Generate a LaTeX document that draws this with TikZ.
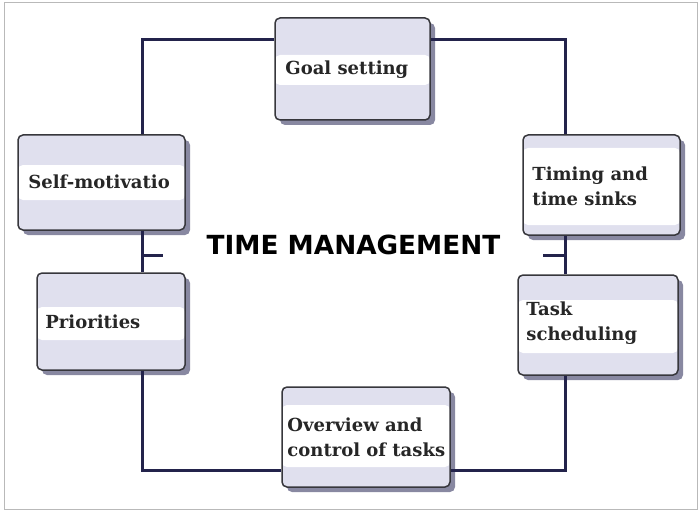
\documentclass[tikz,border=0pt]{standalone}
\usepackage{fontspec}
\usetikzlibrary{shadows,calc}
\newfontfamily\boxfont{DejaVu Serif}
\newfontfamily\titlefont{DejaVu Sans}
\definecolor{lav}{RGB}{224,224,238}
\definecolor{navy}{RGB}{35,35,75}
\definecolor{edge}{RGB}{55,55,60}
\definecolor{shadowc}{RGB}{115,115,145}
\definecolor{framegray}{RGB}{185,185,185}
\tikzset{
  box/.style 2 args={draw=edge, line width=1.5pt, rounded corners=5pt, fill=lav, inner sep=0pt,
    drop shadow={shadow xshift=5pt, shadow yshift=-5pt, fill=shadowc, opacity=0.85},
    path picture={\fill[white] ([yshift=-#1pt]path picture bounding box.north west) rectangle ([yshift=#2pt]path picture bounding box.south east);}},
  label/.style={anchor=west, align=left, inner sep=0pt, font=\boxfont\bfseries\fontsize{18}{25}\selectfont, text=black!85},
  link/.style={draw=navy, line width=3pt},
}
\begin{document}
\begin{tikzpicture}[x=1pt,y=-1pt]
\useasboundingbox (0,0) rectangle (700,513);
\draw[framegray, line width=1pt] (4,3) rectangle (697,509);
% corner coordinates
\coordinate (tl) at (142,40);
\coordinate (tr) at (565,40);
\coordinate (bl) at (142,470);
\coordinate (br) at (565,470);
\coordinate (tickL) at (142,255);
\coordinate (tickLe) at (163,255);
\coordinate (tickR) at (565,255);
\coordinate (tickRe) at (543,255);
% boxes
\node[box={37}{35}, minimum width=155pt, minimum height=102pt] (goal) at (352.5,69) {};
\node[box={30}{30}, minimum width=167pt, minimum height=95pt] (self) at (101.5,182.5) {};
\node[box={34}{30}, minimum width=148pt, minimum height=97pt] (prio) at (111,321.5) {};
\node[box={13}{10}, minimum width=157pt, minimum height=100pt] (timing) at (601.5,185) {};
\node[box={25}{22}, minimum width=160pt, minimum height=100pt] (task) at (598,325) {};
\node[box={18}{20}, minimum width=168pt, minimum height=100pt] (over) at (366,437) {};
% connectors
\draw[link] (goal.west |- tl) -- (tl) -- (self.north -| tl);
\draw[link] (self.south -| tl) -- (prio.north -| tl);
\draw[link] (tickL) -- (tickLe);
\draw[link] (prio.south -| bl) -- (bl) -- (over.west |- bl);
\draw[link] (over.east |- br) -- (br) -- (task.south -| br);
\draw[link] (task.north -| tr) -- (timing.south -| tr);
\draw[link] (tickR) -- (tickRe);
\draw[link] (timing.north -| tr) -- (tr) -- (goal.east |- tr);
% texts
\node[label] (goalt) at ($(goal.west)+(11,1)$) {Goal setting};
\node[label] (selft) at ($(self.west)+(11,-1)$) {Self-motivatio};
\node[label] (priot) at ($(prio.west)+(9,0.5)$) {Priorities};
\node[label] (timingt) at ($(timing.west)+(10,1)$) {Timing and\\time sinks};
\node[label] (taskt) at ($(task.west)+(9,-2)$) {Task\\scheduling};
\node[label] (overt) at ($(over.west)+(6,0)$) {Overview and\\control of tasks};
\node[font=\titlefont\bfseries\fontsize{26.3}{30}\selectfont, inner sep=0pt] (title) at (353.5,245) {TIME MANAGEMENT};
\end{tikzpicture}
\end{document}
